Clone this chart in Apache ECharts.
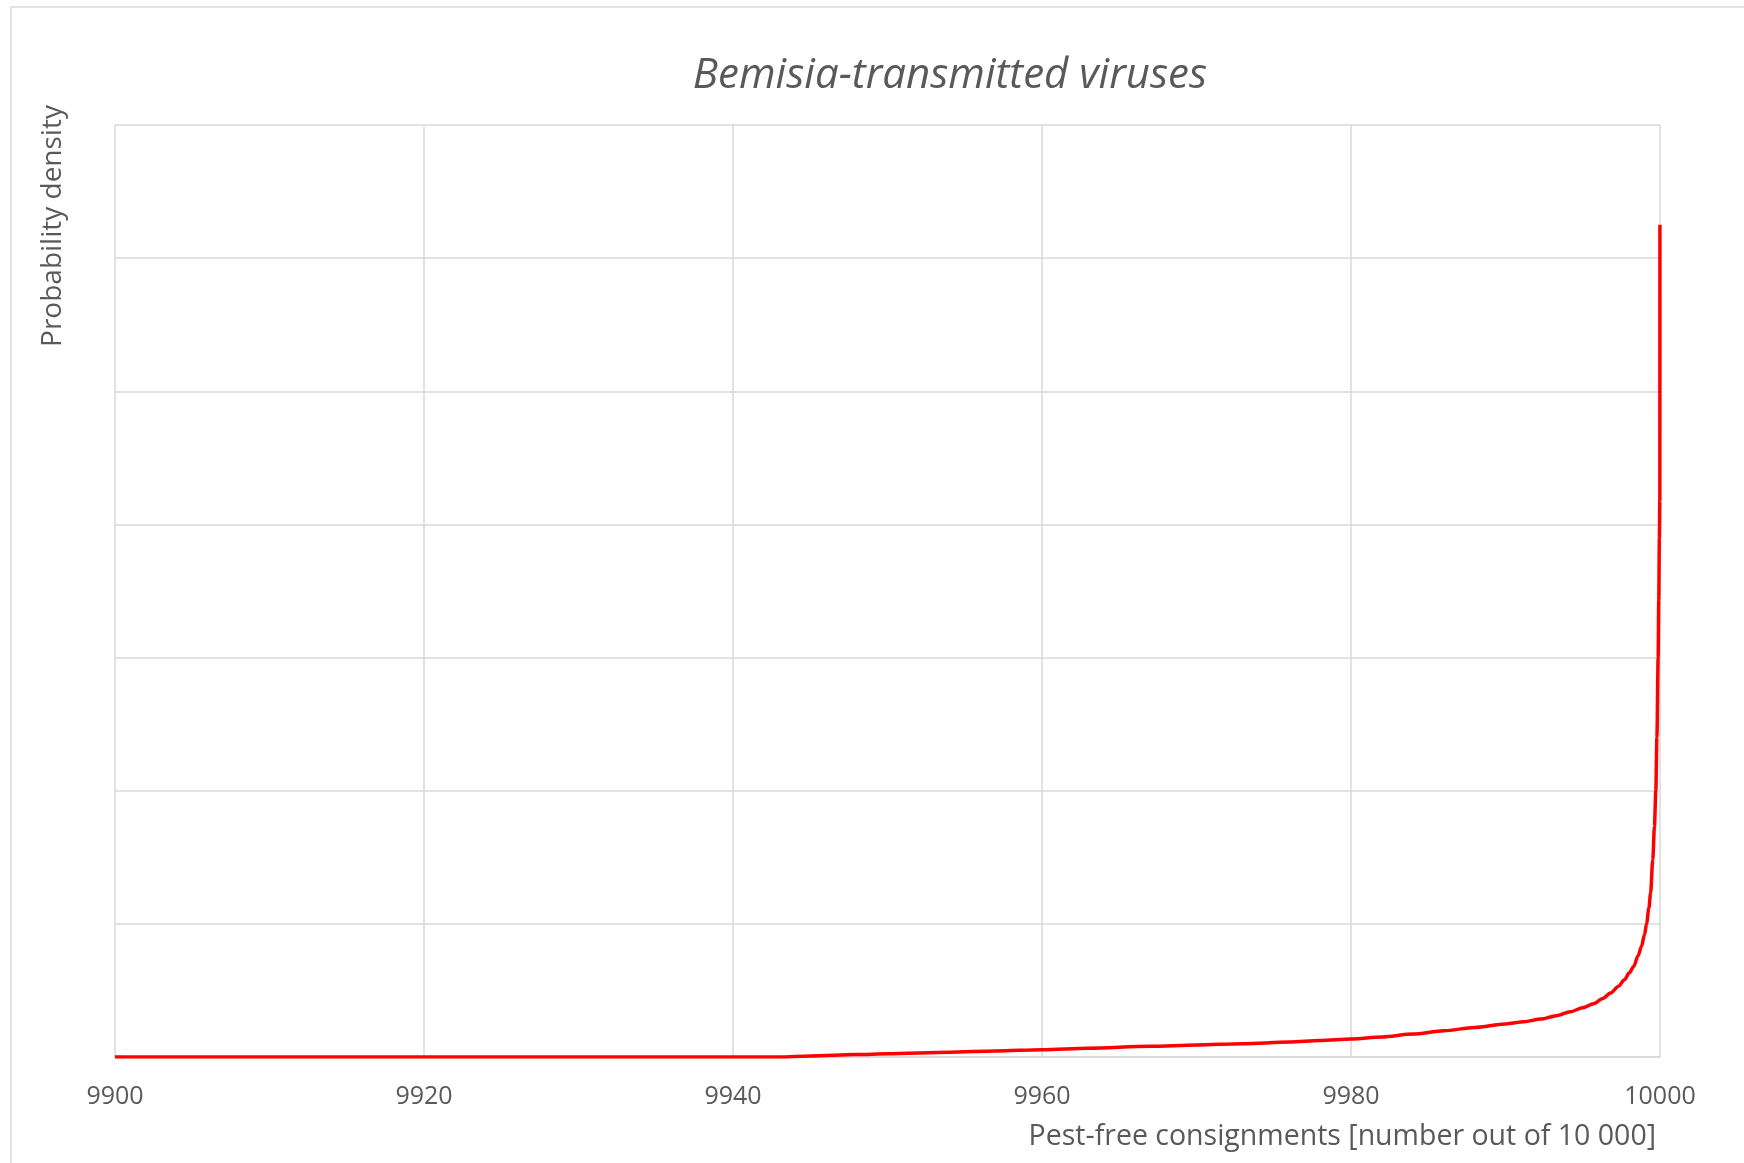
<!DOCTYPE html>
<html>
<head>
<meta charset="utf-8">
<script src="https://cdn.jsdelivr.net/npm/echarts@6/dist/echarts.min.js"></script>
<style>
html,body{margin:0;padding:0;background:#fff;}
#chart{width:1744px;height:1163px;}
</style>
</head>
<body>
<div id="chart"></div>
<script>
// Data
var titleText = 'Bemisia-transmitted viruses';
var xAxisTitle = 'Pest-free consignments [number out of 10 000]';
var yAxisTitle = 'Probability density';
var xTicks = [9900, 9920, 9940, 9960, 9980, 10000];

var consignments = [9900, 9943, 9945, 9948, 9950, 9954, 9957, 9960, 9963, 9967, 9970, 9973, 9976, 9978,
  9980, 9982, 9984, 9986, 9988, 9990, 9991.2, 9992.3, 9993.3, 9994.2, 9995.0, 9995.7, 9996.3, 9996.8,
  9997.3, 9997.7, 9998.0, 9998.3, 9998.58, 9998.8, 9999.0, 9999.13, 9999.28, 9999.39, 9999.53, 9999.64,
  9999.73, 9999.8, 9999.88, 9999.92, 9999.96, 9999.99, 9999.995];
var density = [0, 0, 0.008, 0.018, 0.024, 0.036, 0.045, 0.055, 0.066, 0.080, 0.090, 0.100, 0.112, 0.124,
  0.135, 0.150, 0.172, 0.197, 0.222, 0.248, 0.265, 0.285, 0.31, 0.34, 0.37, 0.40, 0.44, 0.48,
  0.53, 0.58, 0.63, 0.68, 0.76, 0.83, 0.92, 1.0, 1.12, 1.23, 1.48, 1.73,
  2.0, 2.4, 3.0, 3.43, 3.9, 4.18, 6.25];

var points = consignments.map(function (x, i) { return [x, density[i]]; });

var chart = echarts.init(document.getElementById('chart'), null, {renderer: 'canvas'});
var FONT = '"Open Sans", "Noto Sans", sans-serif';
var GRAY = '#595959';
var GRID = '#d9d9d9';

chart.setOption({
  backgroundColor: '#ffffff',
  animation: false,
  grid: {left: 115, top: 125, width: 1545, height: 932, containLabel: false},
  xAxis: {
    type: 'value',
    min: 9900, max: 10000, interval: 20,
    axisLine: {show: true, lineStyle: {color: GRID, width: 1.5}},
    axisTick: {show: false},
    axisLabel: {
      color: GRAY, fontSize: 25, fontFamily: FONT, margin: 27,
      formatter: function (v) { return xTicks.indexOf(v) >= 0 ? String(v) : ''; },
      showMinLabel: true, showMaxLabel: true
    },
    splitLine: {show: true, lineStyle: {color: GRID, width: 1.5}}
  },
  yAxis: {
    type: 'value',
    min: 0, max: 7, interval: 1,
    axisLine: {show: false},
    axisTick: {show: false},
    axisLabel: {show: false},
    splitLine: {show: true, lineStyle: {color: GRID, width: 1.5}}
  },
  series: [{
    type: 'line',
    data: points,
    showSymbol: false,
    symbol: 'none',
    smooth: 0.3,
    smoothMonotone: 'x',
    lineStyle: {color: '#ff0000', width: 3.5},
    z: 5
  }],
  graphic: [
    {
      type: 'rect', z: -10, silent: true,
      shape: {x: 11, y: 7, width: 1800, height: 1300},
      style: {fill: 'none', stroke: GRID, lineWidth: 1.5}
    },
    {
      type: 'text', x: 950, y: 76,
      style: {
        text: titleText, fill: GRAY, font: 'italic 42px ' + FONT,
        fontSize: 42, fontStyle: 'italic', fontFamily: FONT,
        align: 'center', verticalAlign: 'middle', textAlign: 'center', textVerticalAlign: 'middle'
      }
    },
    {
      type: 'text', x: 53, y: 226, rotation: Math.PI / 2,
      style: {
        text: yAxisTitle, fill: GRAY, font: '28px ' + FONT,
        fontSize: 28, fontFamily: FONT,
        align: 'center', verticalAlign: 'middle', textAlign: 'center', textVerticalAlign: 'middle'
      }
    },
    {
      type: 'text', x: 1656, y: 1137,
      style: {
        text: xAxisTitle, fill: GRAY, font: '28.5px ' + FONT,
        fontSize: 28.5, fontFamily: FONT,
        align: 'right', verticalAlign: 'middle', textAlign: 'right', textVerticalAlign: 'middle'
      }
    }
  ]
});
</script>
</body>
</html>
